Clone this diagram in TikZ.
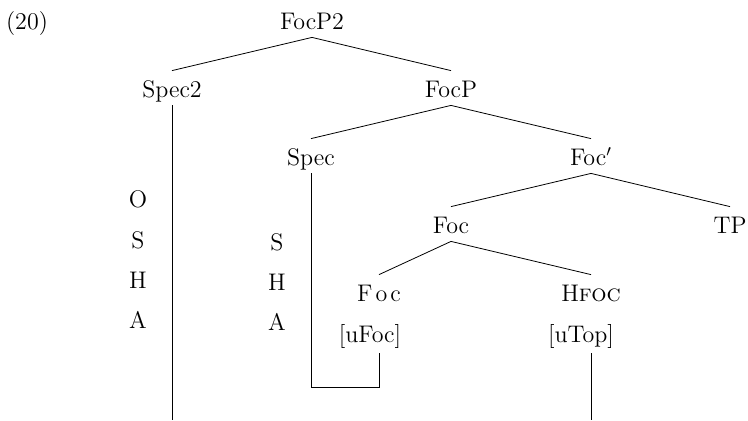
\documentclass[tikz,border=0pt]{standalone}
\begin{document}
\begin{tikzpicture}[x=0.5pt,y=-0.5pt,font=\large]
  \pgfmathsetmacro{\lh}{68}
  \tikzstyle{cat}=[inner sep=0pt, text height=13pt, text depth=4pt, anchor=base]
  \tikzstyle{feat}=[inner sep=0pt, text depth=5.5pt, anchor=base]
  \tikzstyle{letter}=[inner sep=0pt, anchor=base]
  \tikzstyle{branch}=[color=black, thin]
  \useasboundingbox (0,0) rectangle (748,420);
  \node[letter] (ex) at (27,29) {(20)};
  \node[cat] (FocPtwo) at (312,29+0*\lh) {FocP2};
  \node[cat] (SpecTwo) at (172,29+1*\lh) {Spec2};
  \node[cat] (FocP)    at (451,29+1*\lh) {FocP};
  \node[cat] (Spec)    at (311,29+2*\lh) {Spec};
  \node[cat] (FocBar)  at (591,29+2*\lh) {Foc$'$};
  \node[cat] (Foc)     at (451,29+3*\lh) {Foc};
  \node[cat] (TP)      at (730,29+3*\lh) {TP};
  \node[cat] (FocHead) at (379,29+4*\lh) {F\kern1.5pt o\kern1.5pt c};
  \node[cat] (HFoc)    at (591,29+4*\lh) {H\textsc{foc}};
  \node[feat] (uFoc) at (370,342) {[uFoc]};
  \node[feat] (uTop) at (581,342) {[uTop]};
  \node[letter] (oshaO) at (138,207) {O};
  \node[letter] (oshaS) at (138,248) {S};
  \node[letter] (oshaH) at (138,288) {H};
  \node[letter] (oshaA) at (138,328) {A};
  \node[letter] (shaS)  at (277,250) {S};
  \node[letter] (shaH)  at (277,290) {H};
  \node[letter] (shaA)  at (277,330) {A};
  \coordinate (low) at (0,387);
  \coordinate (bot) at (0,420);
  \draw [branch] (FocPtwo.south) -- (SpecTwo.north);
  \draw [branch] (FocPtwo.south) -- (FocP.north);
  \draw [branch] (FocP.south) -- (Spec.north);
  \draw [branch] (FocP.south) -- (FocBar.north);
  \draw [branch] (FocBar.south) -- (Foc.north);
  \draw [branch] (FocBar.south) -- (TP.north);
  \draw [branch] (Foc.south) -- (FocHead.north);
  \draw [branch] (Foc.south) -- (HFoc.north);
  \draw [branch] (SpecTwo.south) -- (SpecTwo |- bot);
  \draw [branch] (Spec.south) |- (FocHead |- low) -- (FocHead |- uFoc.south);
  \draw [branch] (HFoc |- uTop.south) -- (HFoc |- bot);
\end{tikzpicture}
\end{document}
